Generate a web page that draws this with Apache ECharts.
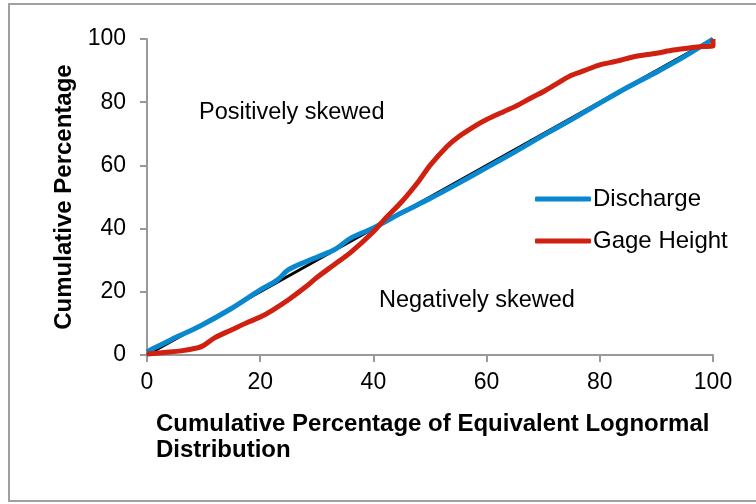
<!DOCTYPE html>
<html><head><meta charset="utf-8">
<script src="https://cdn.jsdelivr.net/npm/echarts@6/dist/echarts.min.js"></script>
<style>html,body{margin:0;padding:0;background:#fff}#c{width:756px;height:504px}</style>
</head><body><div id="c"></div>
<script>
const xTicks = [0, 20, 40, 60, 80, 100];
const refX = [0, 100];
const refY = [0, 100];
const dischargeX = [0, 1, 3, 5, 9.4, 15, 20, 23, 25, 28, 33, 36, 40, 45, 50, 55, 60, 65, 70, 75, 80, 85, 90, 95, 100];
const dischargeY = [1, 2, 3.7, 5.5, 9.2, 14.8, 20.6, 23.7, 27, 29.5, 33.2, 37, 40.2, 45, 49.5, 54.3, 59.3, 64.3, 69.5, 74.5, 79.7, 84.8, 89.5, 94.5, 100];
const gageX = [0, 3, 6, 9, 10, 12, 15, 18, 20, 22, 25, 28, 30, 33, 36, 40, 42, 45, 48, 50, 53, 55, 58, 60, 63, 65, 68, 70, 73, 75, 78, 80, 83, 86, 90, 93, 96, 98, 100, 100];
const gageY = [0.3, 0.8, 1.3, 2.3, 3, 5.5, 8, 10.5, 12, 14, 17.5, 21.5, 24.5, 28.5, 32.5, 39, 43, 48.5, 55, 60, 66, 69, 72.5, 74.5, 77, 78.6, 81.5, 83.3, 86.5, 88.5, 90.5, 91.8, 93, 94.4, 95.5, 96.5, 97.2, 97.6, 97.8, 100];
const seriesNames = ['Discharge', 'Gage Height'];
const notes = ['Positively skewed', 'Negatively skewed'];

const zip = (xs, ys) => xs.map((x, i) => [x, ys[i]]);
const font = '"Liberation Sans", Arial, sans-serif';
const chart = echarts.init(document.getElementById('c'), null, {renderer: 'canvas'});
chart.setOption({
  animation: false,
  backgroundColor: '#fff',
  textStyle: {fontFamily: font},
  grid: {left: 147, right: 43, top: 39, bottom: 149},
  xAxis: {
    type: 'value', min: 0, max: 100, interval: 20,
    axisLine: {lineStyle: {color: '#999', width: 2}},
    axisTick: {show: true, length: 7, lineStyle: {color: '#999', width: 2}},
    axisLabel: {color: '#000', fontSize: 23, fontFamily: font, margin: 16},
    splitLine: {show: false}
  },
  yAxis: {
    type: 'value', min: 0, max: 100, interval: 20,
    axisLine: {show: true, lineStyle: {color: '#999', width: 2}},
    axisTick: {show: true, length: 7, lineStyle: {color: '#999', width: 2}},
    axisLabel: {color: '#000', fontSize: 23, fontFamily: font, margin: 21},
    splitLine: {show: false}
  },
  legend: {
    data: seriesNames, orient: 'vertical', left: 530, top: 182,
    icon: 'roundRect', itemWidth: 56, itemHeight: 5, itemGap: 18,
    textStyle: {fontSize: 24, color: '#000', fontFamily: font, padding: [0, 0, 0, -3]}
  },
  series: [
    {type: 'line', name: 'ref', data: zip(refX, refY), symbol: 'none', lineStyle: {color: '#000', width: 3}, silent: true, z: 1},
    {type: 'line', name: seriesNames[0], data: zip(dischargeX, dischargeY), symbol: 'none', smooth: 0.3, color: '#0a88cf', lineStyle: {color: '#0a88cf', width: 5}, z: 2},
    {type: 'line', name: seriesNames[1], data: zip(gageX, gageY), symbol: 'none', smooth: 0.3, color: '#d02010', lineStyle: {color: '#d02010', width: 5}, z: 3}
  ],
  graphic: [
    {type: 'rect', shape: {x: 9, y: 4, width: 760, height: 497}, style: {fill: 'none', stroke: '#a0a0a0', lineWidth: 2}, silent: true},
    {type: 'text', left: 199, top: 101, style: {text: notes[0], font: '23.5px ' + font, fill: '#000'}},
    {type: 'text', left: 379, top: 289, style: {text: notes[1], font: '23.5px ' + font, fill: '#000'}},
    {type: 'text', x: 64, y: 197, rotation: Math.PI / 2, style: {text: 'Cumulative Percentage', font: 'bold 24px ' + font, fill: '#000', align: 'center', verticalAlign: 'middle'}},
    {type: 'text', left: 156, top: 411, style: {text: 'Cumulative Percentage of Equivalent Lognormal\nDistribution', font: 'bold 24px ' + font, fill: '#000', lineHeight: 26}}
  ]
});
</script></body></html>
